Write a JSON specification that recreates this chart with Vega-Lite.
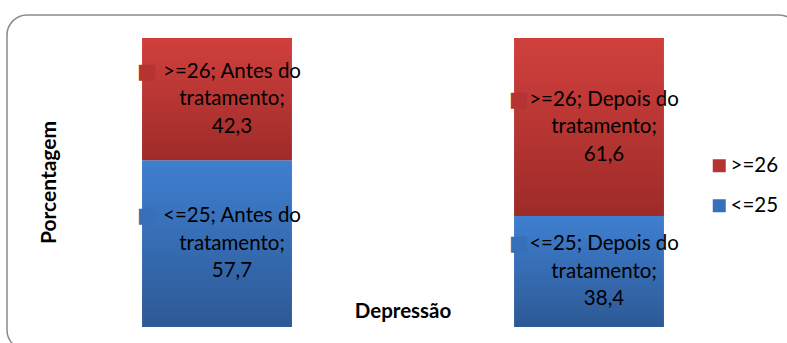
{
  "$schema": "https://vega.github.io/schema/vega-lite/v6.json",
  "width": 792,
  "height": 335,
  "autosize": {"type": "none"},
  "padding": {"left": 7, "top": 15, "right": 0, "bottom": 0},
  "background": "white",
  "config": {
    "view": {"stroke": "#8a8a8a", "strokeWidth": 1.5, "cornerRadius": 20},
    "font": "Lato"
  },
  "data": {
    "values": [
      {"momento": "Antes do tratamento", "grupo": "<=25", "valor": 57.7},
      {"momento": "Antes do tratamento", "grupo": ">=26", "valor": 42.3},
      {"momento": "Depois do tratamento", "grupo": "<=25", "valor": 38.4},
      {"momento": "Depois do tratamento", "grupo": ">=26", "valor": 61.6}
    ]
  },
  "transform": [
    {"stack": "valor", "groupby": ["momento"], "sort": [{"field": "grupo", "order": "ascending"}], "as": ["y0", "y1"]},
    {"calculate": "(datum.y0 + datum.y1) / 2", "as": "mid"},
    {"calculate": "datum.grupo + '; ' + replace(datum.momento, ' tratamento', '') + '\\ntratamento;\\n' + replace(format(datum.valor, '.1f'), '.', ',')", "as": "rotulo"}
  ],
  "encoding": {
    "x": {
      "field": "momento", "type": "nominal", "sort": null,
      "scale": {"paddingInner": 0.597, "paddingOuter": 0.363},
      "axis": {"labels": false, "ticks": false, "domain": false, "grid": false,
        "title": "Depressão", "titleFont": "Lato", "titleFontSize": 20.5, "titleFontWeight": "bold", "titleColor": "#000",
        "titleX": 395.5, "titleY": -38.5, "titleAlign": "center", "titleBaseline": "middle"}
    }
  },
  "layer": [
    {
      "transform": [{"filter": "datum.grupo === '<=25'"}],
      "mark": {"type": "bar", "fill": {"gradient": "linear", "x1": 0, "y1": 0, "x2": 0, "y2": 1, "stops": [{"offset": 0, "color": "#3F7FD0"}, {"offset": 1, "color": "#2D5995"}]}},
      "encoding": {
        "y": {"field": "y0", "type": "quantitative", "scale": {"domain": [-7.96, 107.96], "nice": false, "zero": false},
          "axis": {"labels": false, "ticks": false, "domain": false, "grid": false,
            "title": "Porcentagem", "titleFont": "Lato", "titleFontSize": 21, "titleFontWeight": "bold", "titleColor": "#000",
            "titleX": 42, "titleY": 167, "titleAngle": 270, "titleAlign": "center", "titleBaseline": "middle"}},
        "y2": {"field": "y1"}
      }
    },
    {
      "transform": [{"filter": "datum.grupo === '>=26'"}],
      "mark": {"type": "bar", "fill": {"gradient": "linear", "x1": 0, "y1": 0, "x2": 0, "y2": 1, "stops": [{"offset": 0, "color": "#D0403D"}, {"offset": 1, "color": "#9E2B29"}]}},
      "encoding": {
        "y": {"field": "y0", "type": "quantitative", "title": "Porcentagem"},
        "y2": {"field": "y1"}
      }
    },
    {
      "mark": {"type": "text", "font": "DejaVu Sans", "fontSize": 21, "align": "center", "baseline": "middle", "dx": -70, "dy": -27.5},
      "encoding": {
        "y": {"field": "mid", "type": "quantitative", "title": "Porcentagem"},
        "text": {"value": "■"},
        "color": {
          "field": "grupo", "type": "nominal",
          "scale": {"domain": [">=26", "<=25"], "range": ["#B53330", "#3670B8"]},
          "legend": {"title": null, "orient": "none", "legendX": 702, "legendY": 140.5,
            "symbolType": "square", "symbolSize": 169, "symbolStrokeWidth": 0, "symbolOpacity": 1,
            "labelFont": "Lato", "labelFontSize": 20.5, "labelColor": "#000", "labelOffset": 1,
            "rowPadding": 19, "padding": 0}
        }
      }
    },
    {
      "mark": {"type": "text", "font": "Lato", "fontSize": 20.5, "color": "#000", "align": "center", "baseline": "middle", "lineBreak": "\n", "lineHeight": 27.5, "dx": 15, "dy": -27.5},
      "encoding": {
        "y": {"field": "mid", "type": "quantitative", "title": "Porcentagem"},
        "text": {"field": "rotulo", "type": "nominal"}
      }
    }
  ]
}
